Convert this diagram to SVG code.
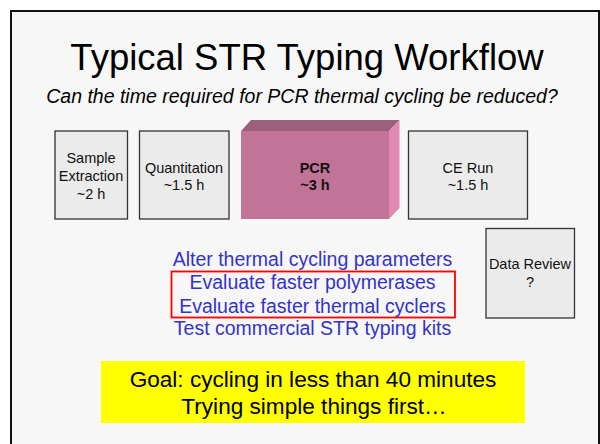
<svg xmlns="http://www.w3.org/2000/svg" width="600" height="444" viewBox="0 0 600 444">
  <style>
    text { font-family: "Liberation Sans", Arial, sans-serif; text-anchor: middle; }
    .step { fill: #ebebeb; stroke: #333; stroke-width: 1.3; }
    .lbl { font-size: 14.5px; fill: #111; }
    .opt { font-size: 19.5px; fill: #3333cc; }
    .goal { font-size: 22.6px; fill: #000; }
  </style>
  <rect x="0" y="0" width="600" height="444" fill="#ffffff"/>
  <!-- slide frame -->
  <rect x="11" y="11" width="588" height="440" fill="#f7f7f7" stroke="#111" stroke-width="2"/>

  <text x="307" y="70" font-size="36.5" fill="#000">Typical STR Typing Workflow</text>
  <text x="302" y="103" font-size="19.5" font-style="italic" fill="#000">Can the time required for PCR thermal cycling be reduced?</text>

  <g id="sample-extraction">
    <rect class="step" x="55" y="131" width="72.5" height="88"/>
    <text class="lbl" x="91" y="163">Sample</text>
    <text class="lbl" x="91" y="181">Extraction</text>
    <text class="lbl" x="91" y="198.5">~2 h</text>
  </g>

  <g id="quantitation">
    <rect class="step" x="139.5" y="131" width="89.5" height="88"/>
    <text class="lbl" x="184" y="172.5">Quantitation</text>
    <text class="lbl" x="184" y="190">~1.5 h</text>
  </g>

  <g id="pcr">
    <polygon points="241,131 251,120 399.5,120 389,131" fill="#9c5f7c"/>
    <polygon points="389,131 399.5,120 399.5,208 389,219" fill="#e089b2"/>
    <rect x="241" y="131" width="148" height="88" fill="#c27398"/>
    <text class="lbl" x="315" y="172.5" font-weight="bold">PCR</text>
    <text class="lbl" x="315" y="190" font-weight="bold">~3 h</text>
  </g>

  <g id="ce-run">
    <rect class="step" x="408.5" y="131" width="119" height="88"/>
    <text class="lbl" x="468" y="172.5">CE Run</text>
    <text class="lbl" x="468" y="190">~1.5 h</text>
  </g>

  <g id="data-review">
    <rect class="step" x="486" y="228.5" width="88.5" height="89.5"/>
    <text class="lbl" x="530" y="269">Data Review</text>
    <text class="lbl" x="530" y="286.5">?</text>
  </g>

  <g id="options">
    <rect x="171.5" y="271.5" width="283.5" height="46" fill="none" stroke="#ff0000" stroke-width="1.8"/>
    <text class="opt" x="312.5" y="266">Alter thermal cycling parameters</text>
    <text class="opt" x="312.5" y="288.5">Evaluate faster polymerases</text>
    <text class="opt" x="312.5" y="312.5">Evaluate faster thermal cyclers</text>
    <text class="opt" x="312.5" y="335">Test commercial STR typing kits</text>
  </g>

  <g id="goal">
    <rect x="101" y="361" width="424" height="62" fill="#ffff00"/>
    <text class="goal" x="313" y="386.5">Goal: cycling in less than 40 minutes</text>
    <text class="goal" x="314" y="413.5">Trying simple things first…</text>
  </g>
</svg>
